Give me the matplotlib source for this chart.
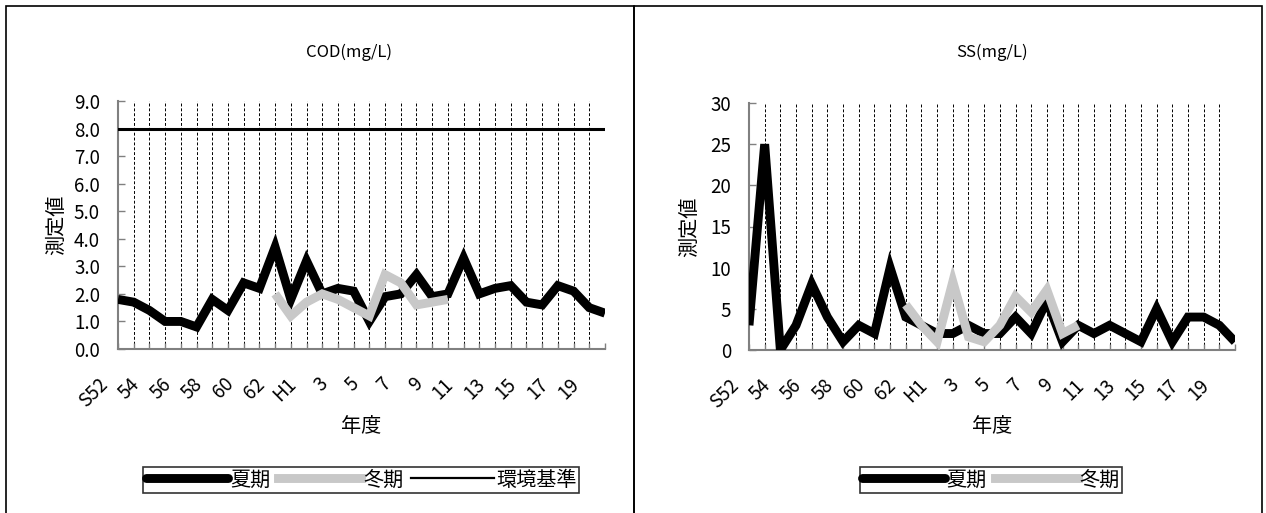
import numpy as np
import matplotlib.pyplot as plt
from matplotlib.lines import Line2D
from matplotlib.patches import Rectangle
import matplotlib.transforms as mtransforms

plt.rcParams['font.family'] = ['Noto Sans CJK JP', 'DejaVu Sans']

nan = np.nan

# 年度 S52 - H20
years = ["S52", "53", "54", "55", "56", "57", "58", "59", "60", "61", "62", "63",
         "H1", "2", "3", "4", "5", "6", "7", "8", "9", "10",
         "11", "12", "13", "14", "15", "16", "17", "18", "19", "20"]

# COD(mg/L)
cod_summer = [1.8, 1.7, 1.4, 1.0, 1.0, 0.8, 1.8, 1.4, 2.4, 2.2, 3.7, 1.8, 3.2, 2.0, 2.2, 2.1,
              1.0, 1.9, 2.0, 2.7, 1.9, 2.0, 3.3, 2.0, 2.2, 2.3, 1.7, 1.6, 2.3, 2.1, 1.5, 1.3]
cod_winter = [nan, nan, nan, nan, nan, nan, nan, nan, nan, nan,
              2.0, 1.2, 1.7, 2.0, 1.8, 1.5, 1.2, 2.7, 2.4, 1.6, 1.7, 1.8,
              nan, nan, nan, nan, nan, nan, nan, nan, nan, nan]
cod_standard = 8.0

# SS(mg/L)
ss_summer = [3, 25, 0, 3, 8, 4, 1, 3, 2, 10, 4, 3, 2, 2, 3, 2,
             2, 4, 2, 6, 1, 3, 2, 3, 2, 1, 5, 1, 4, 4, 3, 1]
ss_winter = [nan, nan, nan, nan, nan, nan, nan, nan, nan, nan,
             5.5, 3, 1, 8.3, 1.6, 1, 3, 6.5, 4.6, 7.3, 2, 3,
             nan, nan, nan, nan, nan, nan, nan, nan, nan, nan]

W, H = 1266, 513
fig = plt.figure(figsize=(W / 100, H / 100), dpi=100)

FS = 13.5      # digits
FS_JP = 14.5   # japanese labels
LW = 6.4
summer_style = dict(color="black", lw=LW, solid_joinstyle="miter", solid_capstyle="butt")
winter_style = dict(color="#c8c8c8", lw=LW, solid_joinstyle="miter", solid_capstyle="butt")
x = np.arange(len(years))


def px_axes(x0, y0, x1, y1):
    return fig.add_axes([x0 / W, 1 - y1 / H, (x1 - x0) / W, (y1 - y0) / H])


def setup(ax, ymax, ystep, fmt, title, title_x, ylab_x):
    ax.set_xlim(0, len(years) - 1)
    ax.set_ylim(0, ymax)
    ticks = np.arange(0, ymax + ystep / 2, ystep)
    ax.set_yticks(ticks)
    ax.set_yticklabels([fmt.format(v) for v in ticks])
    ax.set_xticks(x)
    ax.set_xticklabels([y if i % 2 == 0 else "" for i, y in enumerate(years)],
                       rotation=45, ha="right", va="center", rotation_mode="anchor")
    ax.tick_params(axis="x", direction="in", length=4, width=1, color="#808080",
                   labelsize=FS, pad=23)
    ax.tick_params(axis="y", direction="in", length=5, width=1, color="#808080",
                   labelsize=FS, pad=13)
    # shift rotated labels left (after tick_params, which resets transforms)
    offset = mtransforms.ScaledTranslation(-13 / 100, 0, fig.dpi_scale_trans)
    for lab in ax.xaxis.get_majorticklabels():
        lab.set_transform(lab.get_transform() + offset)
    for s in ["top", "right"]:
        ax.spines[s].set_visible(False)
    for s in ["left", "bottom"]:
        ax.spines[s].set_color("#808080")
        ax.spines[s].set_linewidth(1.5)
    ax.grid(axis="x", color="black", lw=0.7, linestyle=(0, (3, 2)))
    ax.set_axisbelow(True)
    ax.set_ylabel("測定値", fontsize=FS_JP, va="center")
    ax.set_xlabel("年度", fontsize=FS_JP, va="center")
    bb = ax.get_position()
    ax.yaxis.set_label_coords((ylab_x / W - bb.x0) / bb.width, 0.5)
    ax.xaxis.set_label_coords(0.5, ((1 - 427 / H) - bb.y0) / bb.height)
    fig.text(title_x / W, 1 - 52 / H, title, fontsize=12, ha="center", va="center")


# COD panel
ax1 = px_axes(118, 101, 605, 349)
ax1.plot(x, cod_summer, **summer_style, zorder=3)
ax1.plot(x, cod_winter, **winter_style, zorder=4)
ax1.plot(x, [cod_standard] * len(years), color="black", lw=2.2, zorder=3)
setup(ax1, 9, 1, "{:.1f}", "COD(mg/L)", 349, 57)

# SS panel
ax2 = px_axes(749, 103, 1235, 350)
ax2.plot(x, ss_summer, **summer_style, zorder=3)
ax2.plot(x, ss_winter, **winter_style, zorder=4)
setup(ax2, 30, 5, "{:.0f}", "SS(mg/L)", 992, 690)

# panel borders
for x0, x1 in [(6, 634), (634, 1262)]:
    fig.add_artist(Rectangle((x0 / W, -0.05), (x1 - x0) / W, 1.05 - 6 / H,
                             transform=fig.transFigure, fill=False, ec="black", lw=1.2))

# legends
h_summer = Line2D([], [], color="black", lw=LW, solid_capstyle="round")
h_winter = Line2D([], [], color="#c8c8c8", lw=LW)
h_std = Line2D([], [], color="black", lw=1.6)
leg_kw = dict(ncol=3, fontsize=FS_JP, frameon=True, fancybox=False, edgecolor="black",
              handlelength=4.1, handletextpad=0.1, columnspacing=0.4,
              borderpad=0.12, borderaxespad=0, loc="center")
l1 = fig.legend([h_summer, h_winter, h_std], ["夏期", "冬期", "環境基準"],
                bbox_to_anchor=(361 / W, 1 - 480 / H), **leg_kw)
l2 = fig.legend([h_summer, h_winter], ["夏期", "冬期"],
                bbox_to_anchor=(991 / W, 1 - 480 / H), **leg_kw)
for l in (l1, l2):
    l.get_frame().set_linewidth(1.2)

fig.savefig("out.png", dpi=100)
